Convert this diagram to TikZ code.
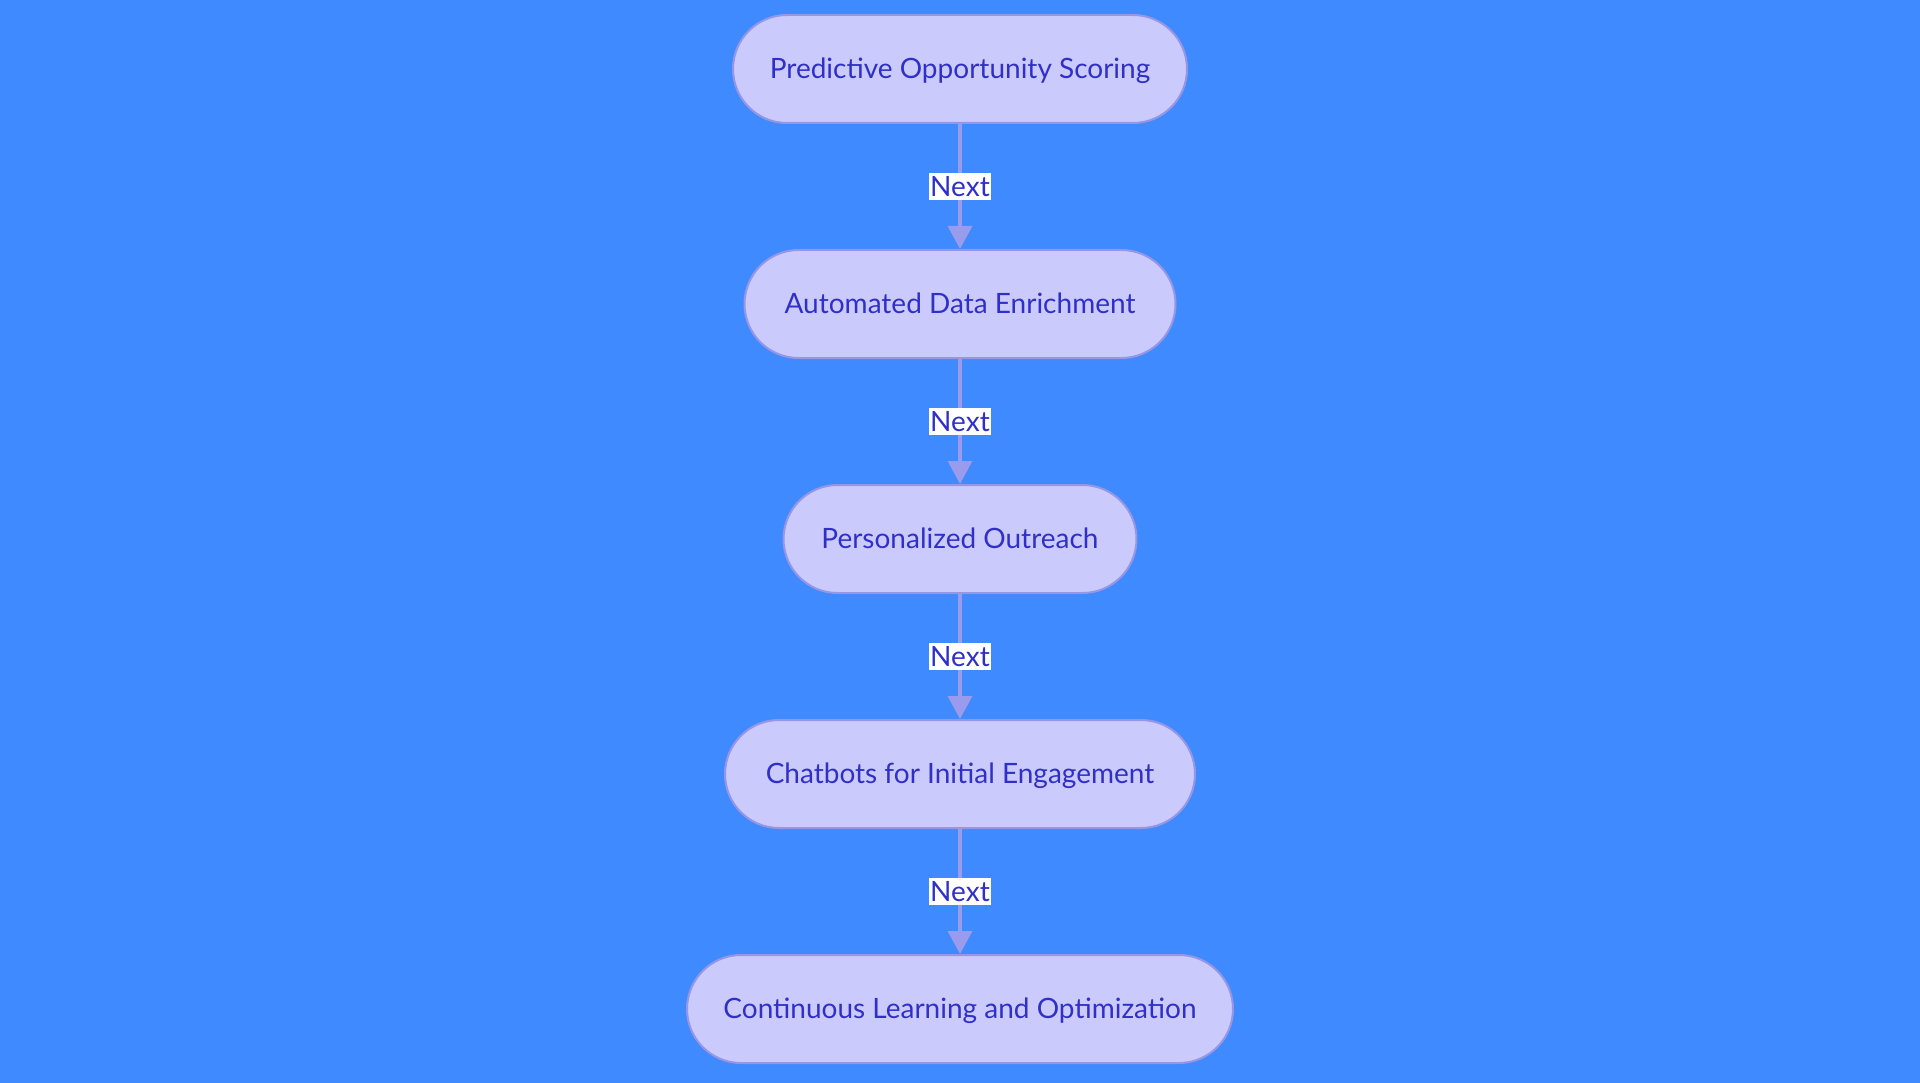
\documentclass[tikz,border=0pt]{standalone}
\usepackage{fontspec}
\setmainfont{Lato}
\usetikzlibrary{arrows.meta}
\definecolor{bg}{RGB}{64,138,255}
\definecolor{nfill}{RGB}{202,202,252}
\definecolor{nborder}{RGB}{150,150,230}
\definecolor{ntext}{RGB}{48,48,200}
\definecolor{edge}{RGB}{155,155,238}
\tikzset{
  stepbox/.style={draw=nborder, line width=2pt, fill=nfill, rounded corners=54pt,
    minimum height=108pt, inner sep=0pt, text depth=1pt, text=ntext, font=\fontsize{28}{32}\selectfont},
  conn/.style={draw=edge, line width=3.5pt, -{Triangle[width=24pt,length=23pt]}},
  lbl/.style={fill=white, text=ntext, inner xsep=1.5pt, inner ysep=3pt, font=\fontsize{28}{32}\selectfont}
}
\begin{document}
\begin{tikzpicture}[x=1pt,y=-1pt]
\fill[bg] (0,0) rectangle (1920,1083);
\useasboundingbox (0,0) rectangle (1920,1083);
\node[stepbox, minimum width=454pt] (n1) at (960,69) {Predictive Opportunity Scoring};
\node[stepbox, minimum width=431pt] (n2) at (960,304) {Automated Data Enrichment};
\node[stepbox, minimum width=353pt] (n3) at (960,539) {Personalized Outreach};
\node[stepbox, minimum width=470pt] (n4) at (960,774) {Chatbots for Initial Engagement};
\node[stepbox, minimum width=546pt] (n5) at (960,1009) {Continuous Learning and Optimization};
\draw[conn] (n1) -- node[lbl] {Next} (n2);
\draw[conn] (n2) -- node[lbl] {Next} (n3);
\draw[conn] (n3) -- node[lbl] {Next} (n4);
\draw[conn] (n4) -- node[lbl] {Next} (n5);
\end{tikzpicture}
\end{document}
